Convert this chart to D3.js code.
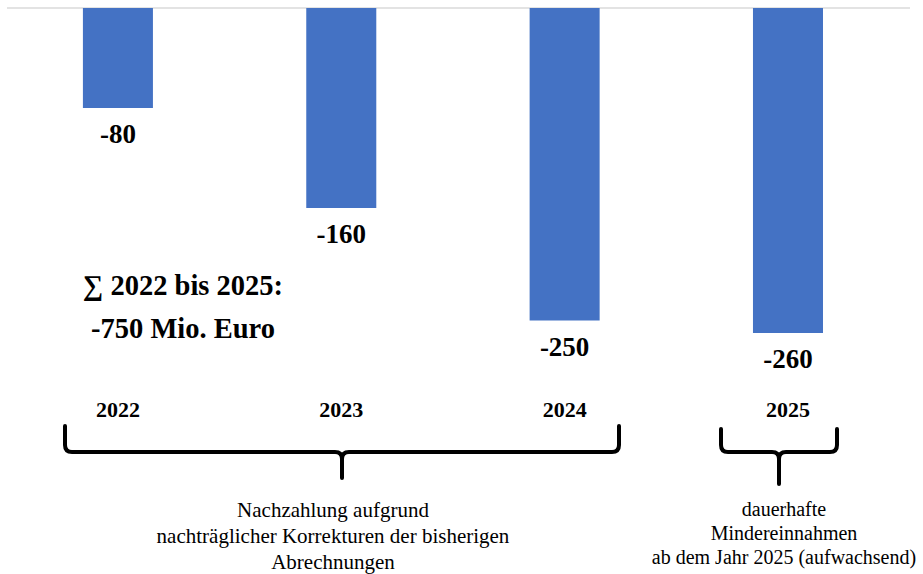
<!DOCTYPE html>
<html>
<head>
<meta charset="utf-8">
<script src="https://cdn.jsdelivr.net/npm/d3@7"></script>
<style>
  body { margin: 0; background: #fff; }
</style>
</head>
<body>
<div id="chart"></div>
<script>
var width = 923,
    height = 574;

var years = ["2022", "2023", "2024", "2025"];
var values = [-80, -160, -250, -260];
var sumLines = ["\u2211 2022 bis 2025:", "-750 Mio. Euro"];
var noteLeft = ["Nachzahlung aufgrund", "nachträglicher Korrekturen der bisherigen", "Abrechnungen"];
var noteRight = ["dauerhafte", "Mindereinnahmen", "ab dem Jahr 2025 (aufwachsend)"];

var serif = "'Liberation Serif', 'Times New Roman', Times, serif";

var svg = d3.select("#chart").append("svg")
    .attr("width", width)
    .attr("height", height)
    .style("font-family", serif);

var x = d3.scaleBand()
    .domain(years)
    .range([6.3, 899.6])
    .paddingInner(0.6865)
    .paddingOuter(0.343);

var y = d3.scaleLinear()
    .domain([0, -300])
    .range([8, 8 + 375]);

// zero line at top
svg.append("line")
    .attr("x1", 7).attr("x2", 910)
    .attr("y1", y(0)).attr("y2", y(0))
    .attr("stroke", "#e3e3e3")
    .attr("stroke-width", 2);

svg.selectAll(".bar")
    .data(values)
  .enter().append("rect")
    .attr("class", "bar")
    .attr("x", function(d, i){ return x(years[i]) })
    .attr("width", x.bandwidth())
    .attr("y", y(0))
    .attr("height", function(d){ return y(d) - y(0) })
    .attr("fill", "#4472c4");

svg.selectAll(".val")
    .data(values)
  .enter().append("text")
    .attr("class", "val")
    .attr("x", function(d, i){ return x(years[i]) + x.bandwidth() / 2 })
    .attr("y", function(d){ return y(d) + 35 })
    .attr("text-anchor", "middle")
    .style("font-family", serif)
    .style("font-size", "27px")
    .style("font-weight", "bold")
    .text(function(d){ return d });

svg.selectAll(".year")
    .data(years)
  .enter().append("text")
    .attr("class", "year")
    .attr("x", function(d){ return x(d) + x.bandwidth() / 2 })
    .attr("y", 417)
    .attr("text-anchor", "middle")
    .style("font-family", serif)
    .style("font-size", "22px")
    .style("font-weight", "bold")
    .text(function(d){ return d });

svg.selectAll(".sum")
    .data(sumLines)
  .enter().append("text")
    .attr("class", "sum")
    .attr("x", 183)
    .attr("y", function(d, i){ return 295 + i * 43 })
    .attr("text-anchor", "middle")
    .style("font-family", serif)
    .style("font-size", "28.5px")
    .style("font-weight", "bold")
    .text(function(d){ return d });

// curly braces under the years
var brace = function(x0, x1, yTop, yMid, yTip){
  var xm = (x0 + x1) / 2, r = 7;
  return "M" + x0 + "," + yTop + "V" + (yMid - r) +
    "Q" + x0 + "," + yMid + " " + (x0 + r) + "," + yMid +
    "H" + (xm - r) + "Q" + xm + "," + yMid + " " + xm + "," + (yMid + r) +
    "V" + yTip +
    "M" + xm + "," + (yMid + r) + "Q" + xm + "," + yMid + " " + (xm + r) + "," + yMid +
    "H" + (x1 - r) + "Q" + x1 + "," + yMid + " " + x1 + "," + (yMid - r) +
    "V" + yTop;
};

svg.append("path")
    .attr("d", brace(65, 619, 426, 452, 478))
    .attr("fill", "none").attr("stroke", "#000")
    .attr("stroke-width", 4).attr("stroke-linecap", "round");

svg.append("path")
    .attr("d", brace(721, 837, 429, 452, 484))
    .attr("fill", "none").attr("stroke", "#000")
    .attr("stroke-width", 4).attr("stroke-linecap", "round");

svg.selectAll(".noteL")
    .data(noteLeft)
  .enter().append("text")
    .attr("class", "noteL")
    .attr("x", 333)
    .attr("y", function(d, i){ return 517 + i * 26 })
    .attr("text-anchor", "middle")
    .style("font-family", serif)
    .style("font-size", "21px")
    .text(function(d){ return d });

svg.selectAll(".noteR")
    .data(noteRight)
  .enter().append("text")
    .attr("class", "noteR")
    .attr("x", 784)
    .attr("y", function(d, i){ return 516 + i * 24 })
    .attr("text-anchor", "middle")
    .style("font-family", serif)
    .style("font-size", "20px")
    .text(function(d){ return d });
</script>
</body>
</html>
